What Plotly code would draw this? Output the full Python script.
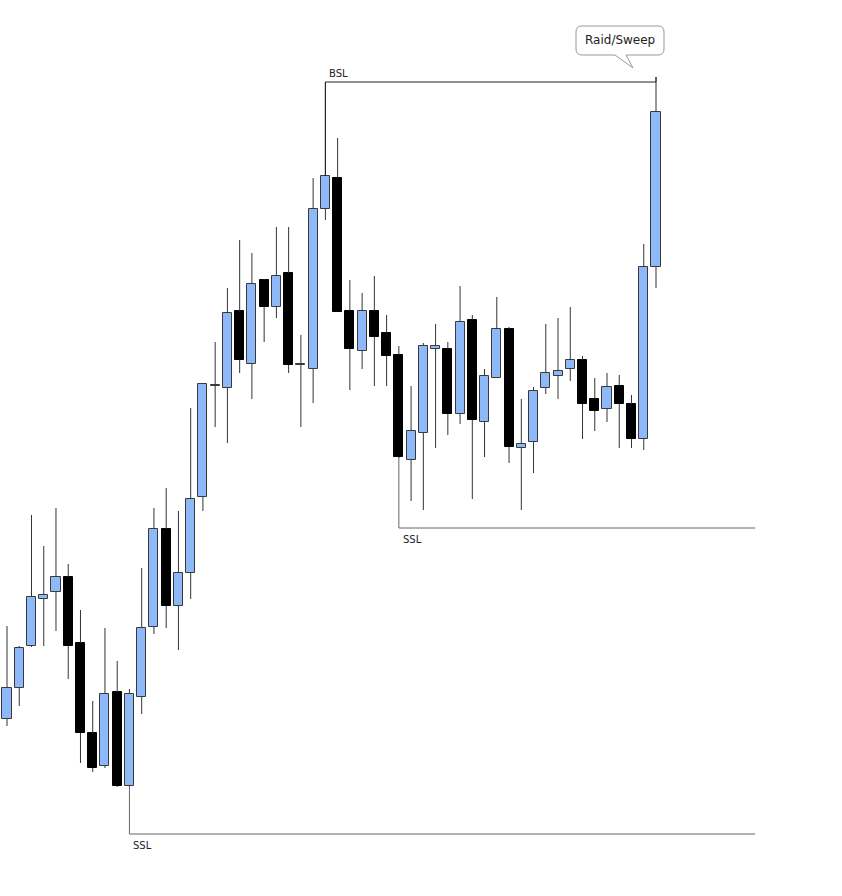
import plotly.graph_objects as go

# ---- data (price units) ----
opens  = [181, 212, 254, 301, 308, 323, 257, 167, 134, 208, 114, 203, 273, 371, 294, 327, 403, 514, 512, 589,
          536, 620, 593, 627, 535, 531, 691, 722, 589, 549, 589, 567, 545, 440, 467, 551, 551, 486, 580, 478,
          522, 571, 452, 458, 512, 524, 531, 540, 501, 491, 514, 496, 461, 633]
highs  = [274, 254, 385, 354, 392, 336, 290, 199, 272, 239, 211, 332, 392, 412, 389, 492, 517, 558, 612, 660,
          647, 621, 673, 673, 565, 722, 818, 762, 620, 607, 624, 585, 554, 514, 557, 576, 558, 614, 585, 531,
          603, 573, 501, 513, 576, 582, 593, 544, 522, 527, 525, 505, 656, 823]
lows   = [174, 194, 253, 254, 269, 221, 137, 128, 132, 113, 113, 186, 266, 272, 250, 301, 389, 473, 457, 527,
          501, 558, 582, 527, 473, 497, 680, 588, 510, 531, 514, 514, 442, 399, 390, 452, 465, 476, 401, 443,
          522, 437, 390, 427, 506, 501, 519, 461, 469, 478, 452, 452, 450, 612]
closes = [212, 252, 303, 305, 323, 254, 167, 132, 206, 114, 206, 272, 371, 294, 327, 401, 516, 515, 587, 540,
          616, 593, 624, 535, 536, 691, 724, 588, 551, 589, 563, 544, 443, 469, 554, 554, 486, 578, 480, 524,
          571, 453, 456, 509, 527, 529, 540, 496, 489, 513, 496, 461, 633, 788]

bsl_index = 26            # candle whose high defines buy-side liquidity
ssl_levels = [372, 66]    # sell-side liquidity levels
ssl_start = [32, 10]      # candles the SSL levels are drawn from
level_end = 61.1          # right end of the liquidity lines (bar index)

n = len(opens)
xs = list(range(n))

BLUE = "#8DB9F8"
EDGE_BULL = "#3a3a3a"

# ---- wicks ----
wx, wy = [], []
for i in xs:
    top = max(opens[i], closes[i])
    bot = min(opens[i], closes[i])
    if highs[i] > top:
        wx += [i, i, None]
        wy += [highs[i], top, None]
    if lows[i] < bot:
        wx += [i, i, None]
        wy += [bot, lows[i], None]

fig = go.Figure()
fig.add_trace(go.Scatter(x=wx, y=wy, mode="lines",
                         line=dict(color="#333333", width=1),
                         hoverinfo="skip", showlegend=False))

# ---- bodies ----
bull = [c >= o for o, c in zip(opens, closes)]
fig.add_trace(go.Bar(
    x=xs,
    base=[min(o, c) for o, c in zip(opens, closes)],
    y=[max(abs(c - o), 1) for o, c in zip(opens, closes)],
    width=0.74,
    marker=dict(color=[BLUE if b else "#000000" for b in bull],
                line=dict(color=[EDGE_BULL if b else "#000000" for b in bull], width=1)),
    showlegend=False, hoverinfo="skip"))

# ---- liquidity lines ----
bsl = highs[bsl_index]
fig.add_trace(go.Scatter(x=[bsl_index, bsl_index, n - 1, n - 1],
                         y=[max(opens[bsl_index], closes[bsl_index]), bsl, bsl, highs[n - 1]],
                         mode="lines", line=dict(color="#222222", width=1),
                         hoverinfo="skip", showlegend=False))
for lvl, st in zip(ssl_levels, ssl_start):
    fig.add_trace(go.Scatter(x=[st, st, level_end],
                             y=[min(opens[st], closes[st]), lvl, lvl],
                             mode="lines", line=dict(color="#666666", width=1),
                             hoverinfo="skip", showlegend=False))

lab_font = dict(family="DejaVu Sans", size=10, color="#222222")
fig.add_annotation(x=bsl_index, y=bsl, text="BSL", showarrow=False,
                   xanchor="left", yanchor="bottom", xshift=2, yshift=1, font=lab_font)
for lvl, st in zip(ssl_levels, ssl_start):
    fig.add_annotation(x=st, y=lvl, text="SSL", showarrow=False,
                       xanchor="left", yanchor="top", xshift=2, yshift=-4, font=lab_font)

# ---- callout ----
fig.add_shape(type="path", xref="x", yref="y",
              xsizemode="pixel", ysizemode="pixel",
              xanchor=n - 1, yanchor=highs[n - 1],
              path=("M -74,51 L 2,51 Q 8,51 8,45 L 8,28 Q 8,22 2,22 "
                    "L -30,22 L -23,9 L -41,22 L -74,22 Q -80,22 -80,28 "
                    "L -80,45 Q -80,51 -74,51 Z"),
              line=dict(color="#999999", width=1), fillcolor="white")
fig.add_annotation(x=n - 1, y=highs[n - 1], text="Raid/Sweep", showarrow=False,
                   xshift=-36, yshift=37,
                   font=dict(family="DejaVu Sans", size=12, color="#222222"))

fig.update_layout(
    width=842, height=896,
    margin=dict(l=0, r=0, t=0, b=0),
    paper_bgcolor="white", plot_bgcolor="white",
    bargap=0,
    xaxis=dict(range=[-0.5717, 68.19], visible=False, showgrid=False, zeroline=False),
    yaxis=dict(range=[4, 900], visible=False, showgrid=False, zeroline=False),
)

fig.write_html("out.html", config={"displayModeBar": False})
